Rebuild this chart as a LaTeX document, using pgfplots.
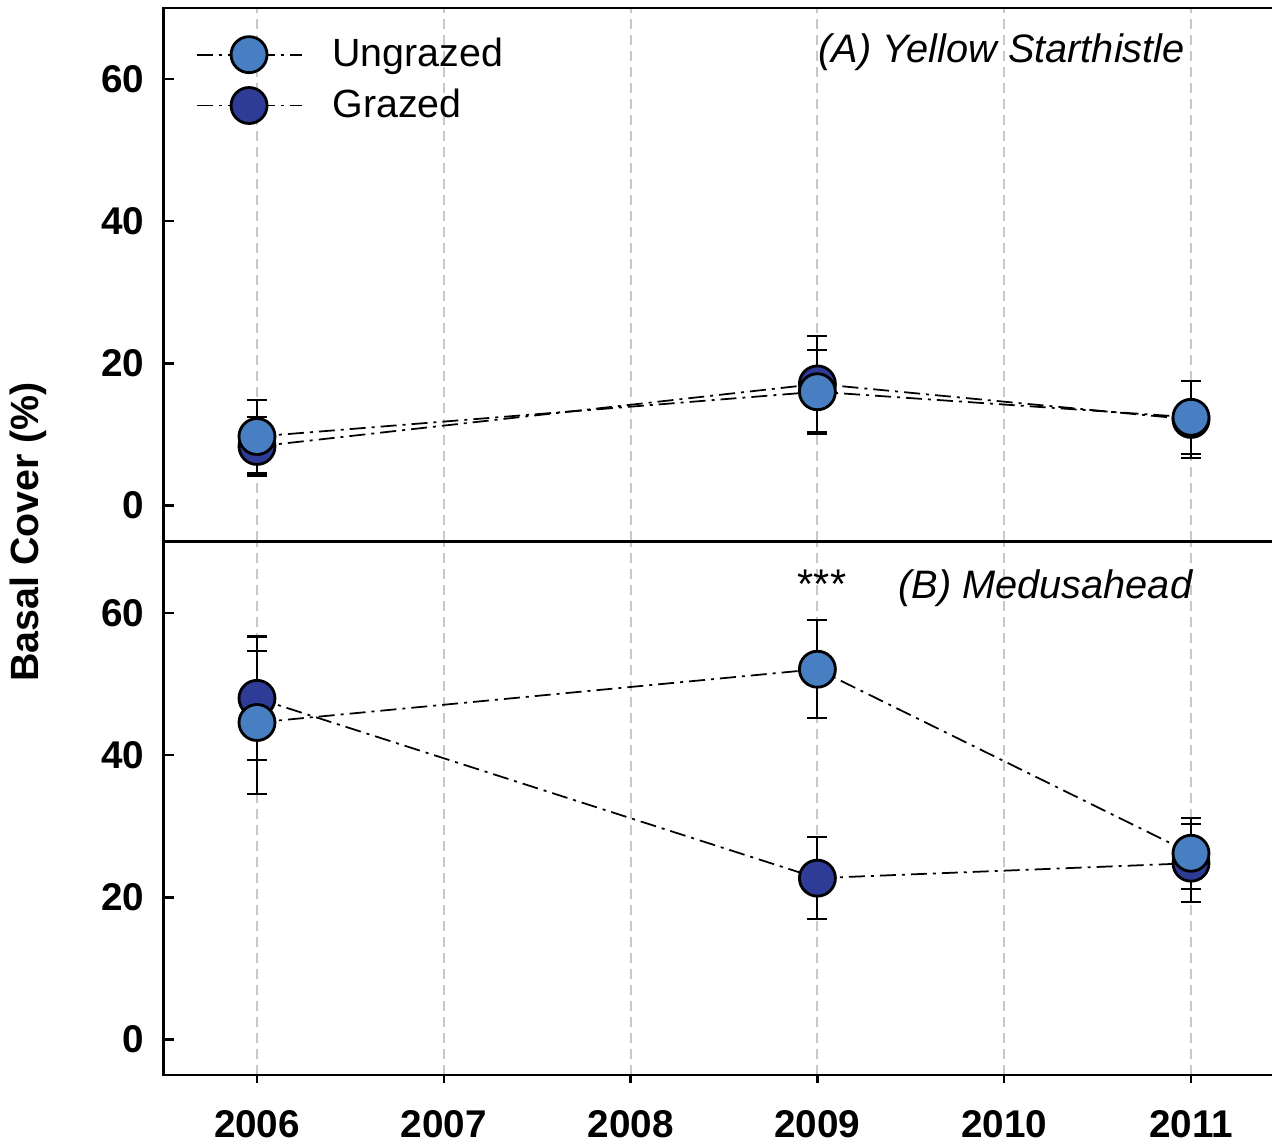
\documentclass[border=0pt]{standalone}
\usepackage{pgfplots}
\pgfplotsset{compat=1.18}
\usepackage{fontspec}
\setmainfont{Liberation Sans}
\definecolor{ung}{RGB}{72,126,194}
\definecolor{grz}{RGB}{46,60,152}
\definecolor{gridg}{RGB}{200,200,200}
\tikzset{dd/.style={black, line width=0.5pt, dash pattern=on 1.6mm off 0.6mm on 0.3mm off 0.6mm}}
\pgfplotsset{
 panel/.style={
  scale only axis, width=112.08mm, height=53.3mm,
  xmin=2005.5, xmax=2011.5, ymin=-5, ymax=70,
  xtick={2006,2007,2008,2009,2010,2011}, ytick={0,20,40,60},
  xmajorgrids, major grid style={gridg, line width=0.6pt, dash pattern=on 1mm off 0.6mm},
  axis line style={line width=0.7pt},
  tick style={black, line width=0.7pt}, major tick length=1mm,
  ytick pos=left, xtick pos=bottom,
  x tick style={draw=none},
  xticklabels={},
  tick label style={font=\bfseries\fontsize{11}{13}\selectfont},
  /pgf/number format/assume math mode=true,
  yticklabel style={xshift=-0.7mm},
 },
 ser/.style={dd, mark=*, mark size=1.8mm, mark options={solid, draw=black, line width=0.8pt, fill=#1},
   forget plot,
   error bars/.cd, y dir=both, y explicit,
   error bar style={solid, black, line width=0.6pt},
   error mark options={rotate=90, solid, black, line width=0.6pt, mark size=1mm}},
}
\begin{document}
\begin{tikzpicture}
% upper panel
\begin{axis}[panel, at={(16.36mm,60.6mm)}, anchor=south west,
  legend style={draw=none, fill=none, at={(axis cs:2005.668,66.9)}, anchor=north west,
    inner sep=0pt, row sep=0.3mm, column sep=2.3mm,
    font=\fontsize{11.2}{13}\selectfont},
  legend cell align=left]
\addplot[ser=grz] table[x=x, y=y, y error=e] {
x y e
2006 8.3 4.2
2009 17.1 6.8
2011 12.1 5.4
};
\addplot[ser=ung] table[x=x, y=y, y error=e] {
x y e
2006 9.7 5.2
2009 16.0 5.9
2011 12.4 5.1
};
\addlegendimage{legend image code/.code={\draw[dd] (0mm,0mm) -- (10.5mm,0mm); \draw[black, line width=0.8pt, fill=ung] (5.25mm,0mm) circle (1.8mm);}}
\addlegendentry{Ungrazed}
\addlegendimage{legend image code/.code={\draw[dd] (0mm,0mm) -- (10.5mm,0mm); \draw[black, line width=0.8pt, fill=grz] (5.25mm,0mm) circle (1.8mm);}}
\addlegendentry{Grazed}
\node[anchor=base east, inner sep=0pt, font=\itshape\fontsize{11.3}{13}\selectfont] at (axis cs:2010.97,62.4) {(A) Yellow Starthistle};
\end{axis}
% lower panel
\begin{axis}[panel, at={(16.36mm,7.2mm)}, anchor=south west]
\addplot[ser=grz] table[x=x, y=y, y error=e] {
x y e
2006 48.0 8.7
2009 22.7 5.8
2011 24.8 5.5
};
\addplot[ser=ung] table[x=x, y=y, y error=e] {
x y e
2006 44.6 10.0
2009 52.1 6.9
2011 26.2 5.0
};
\node[anchor=base east, inner sep=0pt, font=\itshape\fontsize{11.3}{13}\selectfont] at (axis cs:2011.01,62.0) {(B) Medusahead};
\node[anchor=base, inner sep=0pt, font=\fontsize{11.8}{13}\selectfont] at (axis cs:2009.025,62.0) {***};
\end{axis}
% x ticks and labels (outward)
\begin{axis}[scale only axis, width=112.08mm, height=53.3mm, at={(16.36mm,7.2mm)}, anchor=south west,
  xmin=2005.5, xmax=2011.5, ymin=-5, ymax=70,
  axis y line=none, axis x line*=bottom, axis line style={line width=0.7pt, -},
  tick align=outside, major tick length=0.8mm, tick style={black, line width=0.7pt},
  xtick={2006,2007,2008,2009,2010,2011},
  xticklabels={2006,2007,2008,2009,2010,2011},
  xticklabel style={font=\bfseries\fontsize{11}{13}\selectfont, yshift=-1.5mm}]
\end{axis}
\node[rotate=90, font=\bfseries\fontsize{11.2}{13}\selectfont] at (2.8mm,61.5mm) {Basal Cover (\%)};
\pgfresetboundingbox
\path[use as bounding box] (0,0) rectangle (127.2mm,114.7mm);
\end{tikzpicture}
\end{document}
